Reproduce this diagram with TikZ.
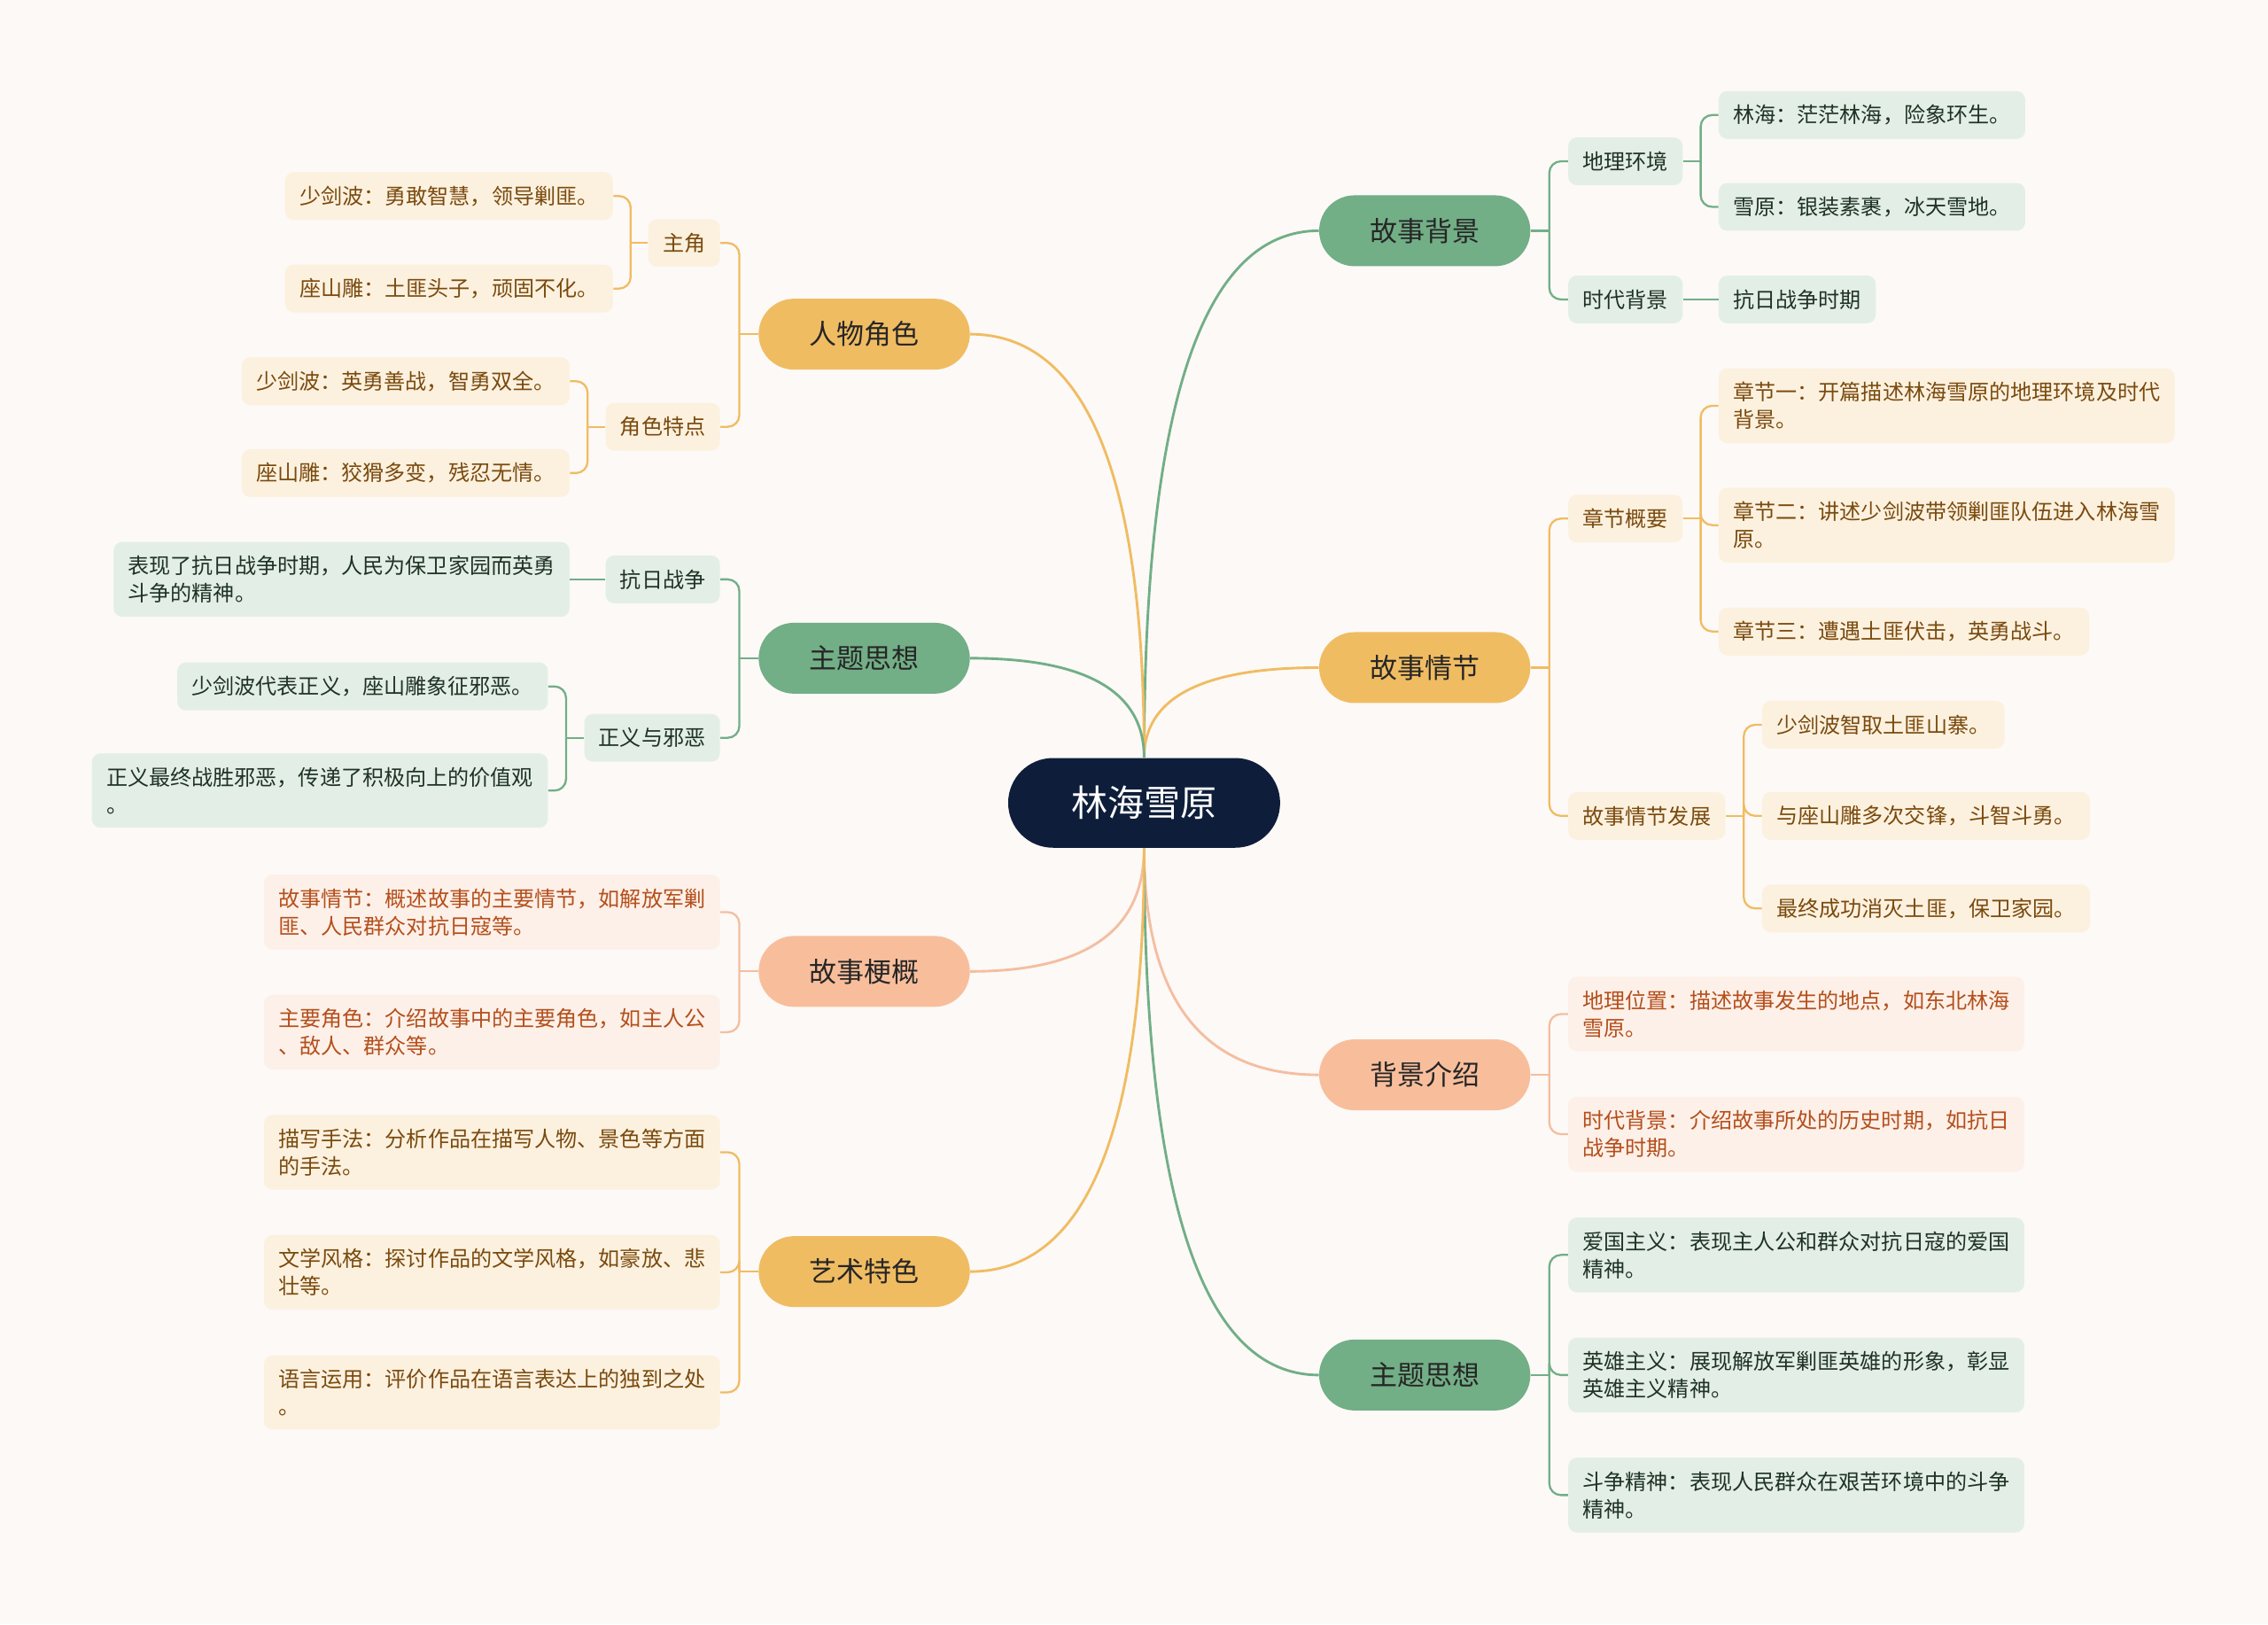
\documentclass[tikz,border=0pt]{standalone}
\usepackage{fontspec}
\setmainfont{Noto Sans CJK SC}
\usepackage{tikz}
\usetikzlibrary{calc}
\definecolor{paper}{HTML}{FCF9F7}
\definecolor{navy}{HTML}{0E1E3A}
\definecolor{ggrn}{HTML}{72AE86}
\definecolor{glit}{HTML}{E3EFE6}
\definecolor{gink}{HTML}{1F3224}
\definecolor{yorg}{HTML}{F0BC62}
\definecolor{ylit}{HTML}{FCF1DF}
\definecolor{yink}{HTML}{7A4A0E}
\definecolor{ppch}{HTML}{F8BE9C}
\definecolor{plit}{HTML}{FDF0E8}
\definecolor{pcink}{HTML}{B44F1C}
\definecolor{plin}{HTML}{F4BEA0}
\tikzset{
  root/.style  ={rounded corners=9.3mm, fill=navy, text=white,
                 font=\fontsize{21.5}{26}\selectfont, minimum width=56.4mm, minimum height=18.6mm},
  topic/.style ={rounded corners=7.35mm, minimum width=43.8mm, minimum height=14.7mm,
                 font=\fontsize{16.2}{20}\selectfont, text=black!85},
  gtopic/.style={topic, fill=ggrn},
  ytopic/.style={topic, fill=yorg},
  ptopic/.style={topic, fill=ppch},
  leaf/.style  ={rounded corners=1.8mm, inner xsep=3mm, inner ysep=2.85mm, minimum height=9.9mm,
                 align=left, font=\fontsize{12.6}{16.2}\selectfont},
  gleaf/.style ={leaf, fill=glit, text=gink},
  yleaf/.style ={leaf, fill=ylit, text=yink},
  pleaf/.style ={leaf, fill=plit, text=pcink},
  link/.style  ={line width=1.5pt},
  glink/.style ={link, draw=ggrn},
  ylink/.style ={link, draw=yorg},
  plink/.style ={link, draw=plin},
  fork/.style  ={line width=1.2pt, rounded corners=2.4mm},
  gfork/.style ={fork, draw=ggrn},
  yfork/.style ={fork, draw=yorg},
  pfork/.style ={fork, draw=plin},
}
% smooth link from the centre: #2 is root.north or root.south, #3 the topic anchor
\newcommand{\rootlink}[3]{%
  \draw[#1] (#2) .. controls ($(#2)!.667!(#2 |- #3)$) and ($(#3)!.667!(#2 |- #3)$) .. (#3);}
\begin{document}
\begin{tikzpicture}[x=0.3mm, y=-0.3mm]
  \fill[paper] (0,0) rectangle (1568,1123);
  % centre
  \node[root] (root) at (791,555) {林海雪原};
  % right topics
  \node[gtopic] (bg) at (985,159.5) {故事背景};
  \node[ytopic] (plot) at (985,461.5) {故事情节};
  \node[ptopic] (intro) at (985,743) {背景介绍};
  \node[gtopic] (themeR) at (985,950.5) {主题思想};
  % left topics
  \node[ytopic] (chars) at (597.5,231) {人物角色};
  \node[gtopic] (themeL) at (597.5,455) {主题思想};
  \node[ptopic] (synop) at (597.5,671.5) {故事梗概};
  \node[ytopic] (art) at (597.5,879) {艺术特色};

  % story background
  \node[gleaf, anchor=west] (geo) at (1084,111.5) {地理环境};
  \node[gleaf, anchor=west] (era) at (1084,207) {时代背景};
  \node[gleaf, anchor=west] (forest) at (1188,79.5) {林海：茫茫林海，险象环生。};
  \node[gleaf, anchor=west] (snow) at (1188,143) {雪原：银装素裹，冰天雪地。};
  \node[gleaf, anchor=west] (war) at (1188,207) {抗日战争时期};
  % plot
  \node[yleaf, anchor=west] (chap) at (1084,358.5) {章节概要};
  \node[yleaf, anchor=west] (devel) at (1084,564) {故事情节发展};
  \node[yleaf, anchor=west] (ch1) at (1188,280.5) {章节一：开篇描述林海雪原的地理环境及时代\\背景。};
  \node[yleaf, anchor=west] (ch2) at (1188,363) {章节二：讲述少剑波带领剿匪队伍进入林海雪\\原。};
  \node[yleaf, anchor=west] (ch3) at (1188,436.5) {章节三：遭遇土匪伏击，英勇战斗。};
  \node[yleaf, anchor=west] (dv1) at (1218,501) {少剑波智取土匪山寨。};
  \node[yleaf, anchor=west] (dv2) at (1218,564) {与座山雕多次交锋，斗智斗勇。};
  \node[yleaf, anchor=west] (dv3) at (1218,628) {最终成功消灭土匪，保卫家园。};
  % background intro
  \node[pleaf, anchor=west] (loc) at (1084,701) {地理位置：描述故事发生的地点，如东北林海\\雪原。};
  \node[pleaf, anchor=west] (time) at (1084,784) {时代背景：介绍故事所处的历史时期，如抗日\\战争时期。};
  % theme, right
  \node[gleaf, anchor=west] (patr) at (1084,867.5) {爱国主义：表现主人公和群众对抗日寇的爱国\\精神。};
  \node[gleaf, anchor=west] (hero) at (1084,950.5) {英雄主义：展现解放军剿匪英雄的形象，彰显\\英雄主义精神。};
  \node[gleaf, anchor=west] (fight) at (1084,1033.5) {斗争精神：表现人民群众在艰苦环境中的斗争\\精神。};

  % characters
  \node[yleaf, anchor=east] (lead) at (498,168) {主角};
  \node[yleaf, anchor=east] (trait) at (498,295) {角色特点};
  \node[yleaf, anchor=east] (ld1) at (424,135.5) {少剑波：勇敢智慧，领导剿匪。};
  \node[yleaf, anchor=east] (ld2) at (424,199.5) {座山雕：土匪头子，顽固不化。};
  \node[yleaf, anchor=east] (tr1) at (394,263.5) {少剑波：英勇善战，智勇双全。};
  \node[yleaf, anchor=east] (tr2) at (394,327) {座山雕：狡猾多变，残忍无情。};
  % theme, left
  \node[gleaf, anchor=east] (resist) at (498,400.5) {抗日战争};
  \node[gleaf, anchor=east] (just) at (498,510) {正义与邪恶};
  \node[gleaf, anchor=east] (rs1) at (394,400.5) {表现了抗日战争时期，人民为保卫家园而英勇\\斗争的精神。};
  \node[gleaf, anchor=east] (js1) at (379,474.5) {少剑波代表正义，座山雕象征邪恶。};
  \node[gleaf, anchor=east] (js2) at (379,546.5) {正义最终战胜邪恶，传递了积极向上的价值观\\。};
  % synopsis
  \node[pleaf, anchor=east] (sy1) at (498,630.5) {故事情节：概述故事的主要情节，如解放军剿\\匪、人民群众对抗日寇等。};
  \node[pleaf, anchor=east] (sy2) at (498,713.5) {主要角色：介绍故事中的主要角色，如主人公\\、敌人、群众等。};
  % art
  \node[yleaf, anchor=east] (ar1) at (498,796.5) {描写手法：分析作品在描写人物、景色等方面\\的手法。};
  \node[yleaf, anchor=east] (ar2) at (498,879.5) {文学风格：探讨作品的文学风格，如豪放、悲\\壮等。};
  \node[yleaf, anchor=east] (ar3) at (498,962.5) {语言运用：评价作品在语言表达上的独到之处\\。};

  % links from the centre
  \rootlink{glink}{root.north}{bg.west}
  \rootlink{ylink}{root.north}{plot.west}
  \rootlink{plink}{root.south}{intro.west}
  \rootlink{glink}{root.south}{themeR.west}
  \rootlink{ylink}{root.north}{chars.east}
  \rootlink{glink}{root.north}{themeL.east}
  \rootlink{plink}{root.south}{synop.east}
  \rootlink{ylink}{root.south}{art.east}

  % forks, right
  \coordinate (bg-j) at ($(bg.east)!.5!(bg.east -| geo.west)$);
  \draw[gfork] (bg.east) -- (bg-j);
  \draw[gfork] (bg-j) |- (geo.west);
  \draw[gfork] (bg-j) |- (era.west);
  \coordinate (geo-j) at ($(geo.east)!.5!(geo.east -| forest.west)$);
  \draw[gfork] (geo.east) -- (geo-j);
  \draw[gfork] (geo-j) |- (forest.west);
  \draw[gfork] (geo-j) |- (snow.west);
  \draw[gfork] (era.east) -- (war.west);

  \coordinate (plot-j) at ($(plot.east)!.5!(plot.east -| chap.west)$);
  \draw[yfork] (plot.east) -- (plot-j);
  \draw[yfork] (plot-j) |- (chap.west);
  \draw[yfork] (plot-j) |- (devel.west);
  \coordinate (chap-j) at ($(chap.east)!.5!(chap.east -| ch1.west)$);
  \draw[yfork] (chap.east) -- (chap-j);
  \draw[yfork] (chap-j) |- (ch1.west);
  \draw[yfork] (chap-j) |- (ch2.west);
  \draw[yfork] (chap-j) |- (ch3.west);
  \coordinate (devel-j) at ($(devel.east)!.5!(devel.east -| dv1.west)$);
  \draw[yfork] (devel.east) -- (devel-j);
  \draw[yfork] (devel-j) |- (dv1.west);
  \draw[yfork] (devel-j) |- (dv2.west);
  \draw[yfork] (devel-j) |- (dv3.west);

  \coordinate (intro-j) at ($(intro.east)!.5!(intro.east -| loc.west)$);
  \draw[pfork] (intro.east) -- (intro-j);
  \draw[pfork] (intro-j) |- (loc.west);
  \draw[pfork] (intro-j) |- (time.west);

  \coordinate (themeR-j) at ($(themeR.east)!.5!(themeR.east -| patr.west)$);
  \draw[gfork] (themeR.east) -- (themeR-j);
  \draw[gfork] (themeR-j) |- (patr.west);
  \draw[gfork] (themeR-j) |- (hero.west);
  \draw[gfork] (themeR-j) |- (fight.west);

  % forks, left
  \coordinate (chars-j) at ($(chars.west)!.5!(chars.west -| lead.east)$);
  \draw[yfork] (chars.west) -- (chars-j);
  \draw[yfork] (chars-j) |- (lead.east);
  \draw[yfork] (chars-j) |- (trait.east);
  \coordinate (lead-j) at ($(lead.west)!.5!(lead.west -| ld1.east)$);
  \draw[yfork] (lead.west) -- (lead-j);
  \draw[yfork] (lead-j) |- (ld1.east);
  \draw[yfork] (lead-j) |- (ld2.east);
  \coordinate (trait-j) at ($(trait.west)!.5!(trait.west -| tr1.east)$);
  \draw[yfork] (trait.west) -- (trait-j);
  \draw[yfork] (trait-j) |- (tr1.east);
  \draw[yfork] (trait-j) |- (tr2.east);

  \coordinate (themeL-j) at ($(themeL.west)!.5!(themeL.west -| resist.east)$);
  \draw[gfork] (themeL.west) -- (themeL-j);
  \draw[gfork] (themeL-j) |- (resist.east);
  \draw[gfork] (themeL-j) |- (just.east);
  \draw[gfork] (resist.west) -- (rs1.east);
  \coordinate (just-j) at ($(just.west)!.5!(just.west -| js1.east)$);
  \draw[gfork] (just.west) -- (just-j);
  \draw[gfork] (just-j) |- (js1.east);
  \draw[gfork] (just-j) |- (js2.east);

  \coordinate (synop-j) at ($(synop.west)!.5!(synop.west -| sy1.east)$);
  \draw[pfork] (synop.west) -- (synop-j);
  \draw[pfork] (synop-j) |- (sy1.east);
  \draw[pfork] (synop-j) |- (sy2.east);

  \coordinate (art-j) at ($(art.west)!.5!(art.west -| ar1.east)$);
  \draw[yfork] (art.west) -- (art-j);
  \draw[yfork] (art-j) |- (ar1.east);
  \draw[yfork] (art-j) |- (ar2.east);
  \draw[yfork] (art-j) |- (ar3.east);
\end{tikzpicture}
\end{document}
